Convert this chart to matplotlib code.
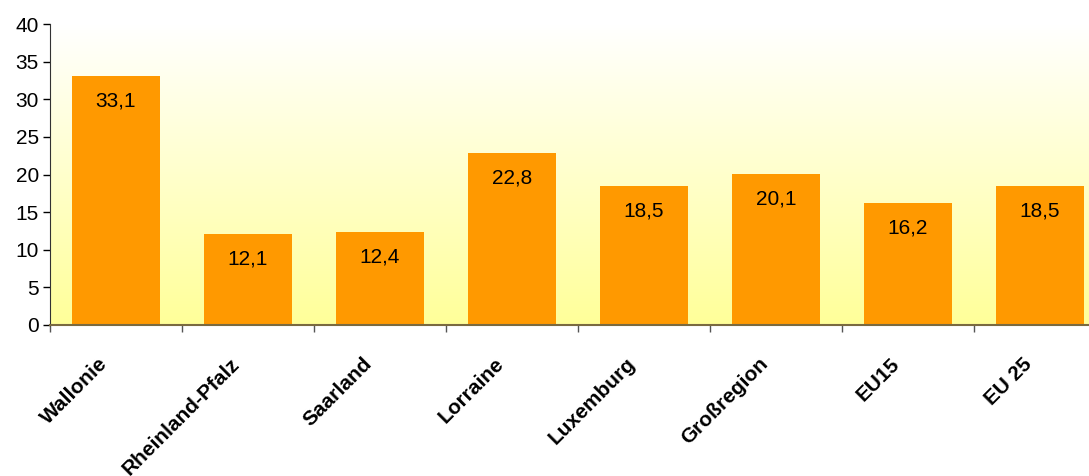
import matplotlib.pyplot as plt
import numpy as np
from matplotlib.colors import LinearSegmentedColormap
from matplotlib.transforms import ScaledTranslation

regions = ['Wallonie', 'Rheinland-Pfalz', 'Saarland', 'Lorraine', 'Luxemburg',
           'Großregion', 'EU15', 'EU 25']
values = [33.1, 12.1, 12.4, 22.8, 18.5, 20.1, 16.2, 18.5]

plt.rcParams['font.family'] = ['Liberation Sans', 'DejaVu Sans']

fig = plt.figure(figsize=(10.89, 4.76), dpi=100)
ax = fig.add_axes([50 / 1089, 1 - 325 / 476, 1039 / 1089, 301 / 476])

# background gradient white -> light yellow
cmap = LinearSegmentedColormap.from_list('bg', ['#FFFFFF', '#FFFF99'])
grad = np.linspace(0, 1, 256).reshape(-1, 1)
ax.imshow(grad, cmap=cmap, aspect='auto', extent=[0, 1, 0, 1],
          transform=ax.transAxes, zorder=0)

x = np.arange(len(regions))
bars = ax.bar(x, values, width=0.667, color='#FF9900', zorder=2)

for xi, v in zip(x, values):
    ax.annotate(f'{v:.1f}'.replace('.', ','), (xi, v), xytext=(0, -18),
                textcoords='offset points', ha='center', va='center',
                fontsize=15, zorder=3)

ax.set_xlim(-0.5, 7.5 - 17 / 132)
ax.set_ylim(0, 40)
ax.set_yticks(range(0, 41, 5))
ax.tick_params(axis='y', labelsize=15, direction='out', length=5, width=1,
               pad=3)

ax.set_xticks(np.arange(-0.5, 7.5, 1.0))
ax.set_xticklabels([])
ax.set_xticks(x, minor=True)
ax.set_xticklabels(regions, minor=True, rotation=45, ha='right',
                   rotation_mode='anchor', fontsize=15, fontweight='bold')
ax.tick_params(axis='x', which='major', direction='out', length=5, width=1,
               color='#555555')
ax.tick_params(axis='x', which='minor', length=0, pad=21)
shift = ScaledTranslation(-18 / 100, 0, fig.dpi_scale_trans)
for lbl in ax.get_xticklabels(minor=True):
    lbl.set_transform(lbl.get_transform() + shift)

for s in ['top', 'right']:
    ax.spines[s].set_visible(False)
ax.spines['left'].set_color('#333333')
ax.spines['bottom'].set_color('#7a6a40')
ax.spines['bottom'].set_linewidth(1.5)

fig.savefig('out.png', dpi=100)
